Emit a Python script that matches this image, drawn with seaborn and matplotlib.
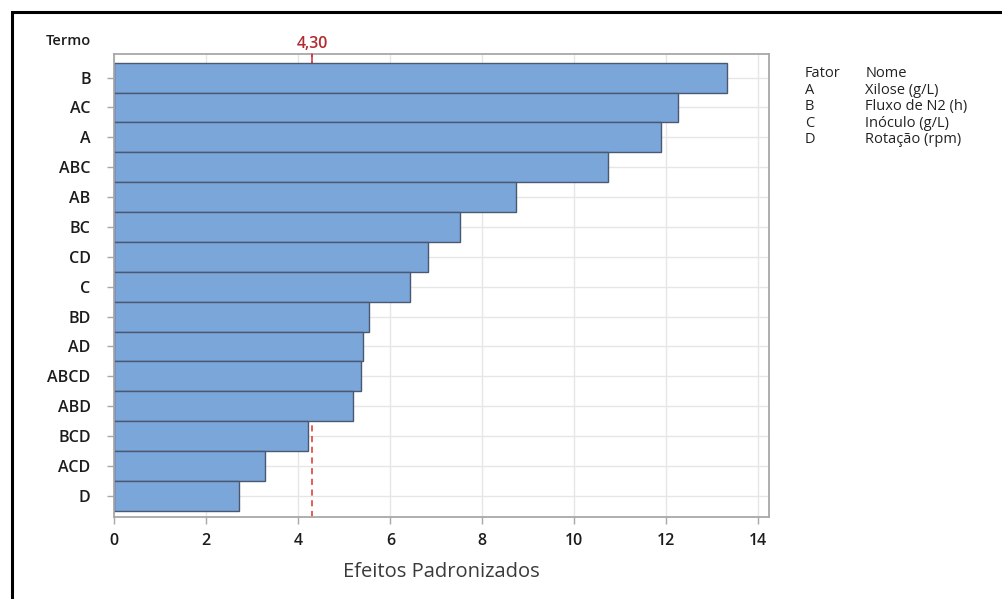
import matplotlib
matplotlib.use("Agg")
import matplotlib.pyplot as plt
from matplotlib.patches import Rectangle
import seaborn as sns
import pandas as pd

# Standardized effects (Pareto chart), sorted from largest to smallest
terms = ["B", "AC", "A", "ABC", "AB", "BC", "CD", "C", "BD", "AD",
         "ABCD", "ABD", "BCD", "ACD", "D"]
effects = [13.33, 12.25, 11.88, 10.73, 8.73, 7.52, 6.81, 6.43, 5.54, 5.40,
           5.36, 5.18, 4.22, 3.28, 2.70]
critical_value = 4.30
critical_label = "4,30"
x_ticks = [0, 2, 4, 6, 8, 10, 12, 14]

factor_codes = ["A", "B", "C", "D"]
factor_names = ["Xilose (g/L)", "Fluxo de N2 (h)", "Inóculo (g/L)", "Rotação (rpm)"]

sns.set_theme(style="white")
plt.rcParams["font.family"] = ["Open Sans", "DejaVu Sans"]

df = pd.DataFrame({"Termo": terms, "Efeito": effects})

fig = plt.figure(figsize=(10.02, 5.99), dpi=100)
ax = fig.add_axes([0.1141, 0.1374, 0.6537, 0.7719])

# reference line sits behind the bars
ax.axvline(critical_value, color="#d9342b", linestyle=(0, (4, 3)), linewidth=1.1, zorder=1)

sns.barplot(data=df, x="Efeito", y="Termo", orient="h", width=1.0,
            color="#7BA6DA", saturation=1, edgecolor="#4A5870", linewidth=1.0,
            ax=ax, zorder=2)

ax.set_xlim(0, 14.24)
ax.set_ylim(14.7, -0.78)
ax.set_xticks(x_ticks)
ax.set_xticklabels([str(t) for t in x_ticks])

ax.grid(True, color="#e6e6e6", linewidth=1.0, zorder=0)
ax.set_axisbelow(True)
for side in ["top", "right", "bottom", "left"]:
    ax.spines[side].set_visible(True)
    ax.spines[side].set_color("#a8a8a8")
    ax.spines[side].set_linewidth(1.3)

ax.tick_params(axis="both", which="major", length=5, width=1, color="#a8a8a8",
               labelsize=11.5, labelcolor="#1c1c1c", bottom=True, left=True)
ax.tick_params(axis="y", pad=12)
ax.tick_params(axis="x", pad=7)
for lab in ax.get_xticklabels() + ax.get_yticklabels():
    lab.set_fontweight("semibold")

ax.set_ylabel("")
ax.set_xlabel("Efeitos Padronizados", fontsize=14.5, color="#3a3a3a", labelpad=9)

# marker and label for the critical value on the top edge
ax.plot([critical_value, critical_value], [-0.78, -0.5], color="#c8303a",
        linewidth=1.1, zorder=5, clip_on=False)
ax.text(critical_value, -0.85, critical_label, color="#b02a30", fontsize=11.5,
        ha="center", va="bottom", fontweight="semibold")

fig.text(0.0908, 0.932, "Termo", ha="right", va="center", fontsize=10.5,
         color="#1c1c1c", fontweight="semibold")

# factor legend
x_code, x_name = 0.8035, 0.8635
y0, dy = 0.877, 0.0275
fig.text(x_code, y0, "Fator", fontsize=10.5, color="#222222", va="center")
fig.text(x_name, y0, "Nome", fontsize=10.5, color="#222222", va="center")
for i, (c, n) in enumerate(zip(factor_codes, factor_names), start=1):
    fig.text(x_code, y0 - i * dy, c, fontsize=10.5, color="#222222", va="center")
    fig.text(x_name, y0 - i * dy, n, fontsize=10.5, color="#222222", va="center")

# outer frame of the figure
fig.patches.append(Rectangle((0.012, -0.01), 1.0, 0.99, transform=fig.transFigure,
                             fill=False, edgecolor="black", linewidth=2.2))

fig.savefig("out.png", dpi=100, facecolor="white")
